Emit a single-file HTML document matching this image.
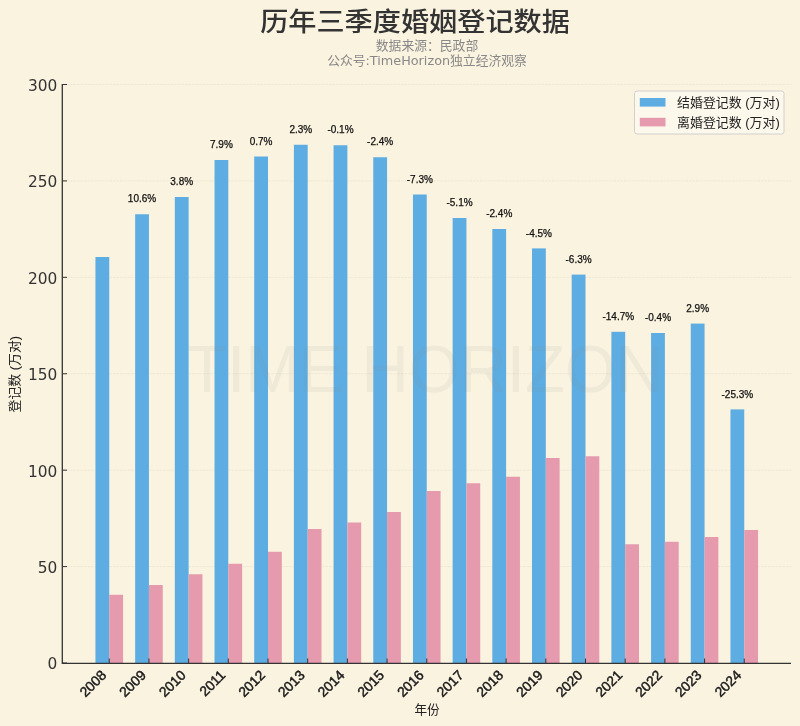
<!DOCTYPE html>
<html lang="zh-CN"><head><meta charset="utf-8"><title>历年三季度婚姻登记数据</title>
<style>
html,body{margin:0;padding:0;background:#FAF3E0;}
body{width:800px;height:726px;overflow:hidden;}
svg{display:block;}
.t{font-family:"Liberation Sans", "Noto Sans CJK SC", sans-serif;}
.d{font-family:"DejaVu Sans", "Liberation Sans", "Noto Sans CJK SC", sans-serif;}
</style></head><body>
<svg width="800" height="726" viewBox="0 0 800 726">
<rect x="0" y="0" width="800" height="726" fill="#FAF3E0"/>
<g stroke="#8a836f" stroke-opacity="0.11" stroke-width="0.9" stroke-dasharray="2.6 1">
<line x1="62.50" y1="566.58" x2="791.50" y2="566.58"/>
<line x1="62.50" y1="470.17" x2="791.50" y2="470.17"/>
<line x1="62.50" y1="373.75" x2="791.50" y2="373.75"/>
<line x1="62.50" y1="277.33" x2="791.50" y2="277.33"/>
<line x1="62.50" y1="180.92" x2="791.50" y2="180.92"/>
<line x1="62.50" y1="84.50" x2="791.50" y2="84.50"/>
</g>
<g fill="#5DADE2">
<rect x="95.45" y="257.00" width="13.80" height="406.00"/>
<rect x="135.14" y="214.25" width="13.80" height="448.75"/>
<rect x="174.82" y="197.00" width="13.80" height="466.00"/>
<rect x="214.51" y="160.00" width="13.80" height="503.00"/>
<rect x="254.20" y="156.50" width="13.80" height="506.50"/>
<rect x="293.89" y="144.75" width="13.80" height="518.25"/>
<rect x="333.57" y="145.25" width="13.80" height="517.75"/>
<rect x="373.26" y="157.25" width="13.80" height="505.75"/>
<rect x="412.95" y="194.50" width="13.80" height="468.50"/>
<rect x="452.64" y="218.00" width="13.80" height="445.00"/>
<rect x="492.32" y="229.00" width="13.80" height="434.00"/>
<rect x="532.01" y="248.40" width="13.80" height="414.60"/>
<rect x="571.70" y="274.60" width="13.80" height="388.40"/>
<rect x="611.39" y="331.80" width="13.80" height="331.20"/>
<rect x="651.08" y="333.00" width="13.80" height="330.00"/>
<rect x="690.76" y="323.60" width="13.80" height="339.40"/>
<rect x="730.45" y="409.40" width="13.80" height="253.60"/>
</g>
<g fill="#E59AAE">
<rect x="109.25" y="594.75" width="13.80" height="68.25"/>
<rect x="148.94" y="585.00" width="13.80" height="78.00"/>
<rect x="188.62" y="574.25" width="13.80" height="88.75"/>
<rect x="228.31" y="563.75" width="13.80" height="99.25"/>
<rect x="268.00" y="551.75" width="13.80" height="111.25"/>
<rect x="307.69" y="529.00" width="13.80" height="134.00"/>
<rect x="347.38" y="522.50" width="13.80" height="140.50"/>
<rect x="387.06" y="512.00" width="13.80" height="151.00"/>
<rect x="426.75" y="491.00" width="13.80" height="172.00"/>
<rect x="466.44" y="483.25" width="13.80" height="179.75"/>
<rect x="506.12" y="476.75" width="13.80" height="186.25"/>
<rect x="545.81" y="458.00" width="13.80" height="205.00"/>
<rect x="585.50" y="456.25" width="13.80" height="206.75"/>
<rect x="625.19" y="544.25" width="13.80" height="118.75"/>
<rect x="664.88" y="541.75" width="13.80" height="121.25"/>
<rect x="704.56" y="537.00" width="13.80" height="126.00"/>
<rect x="744.25" y="530.00" width="13.80" height="133.00"/>
</g>
<text class="t" x="425" y="392" text-anchor="middle" font-size="66" font-weight="400" fill="#808080" fill-opacity="0.085" textLength="476" lengthAdjust="spacingAndGlyphs">TIME HORIZON</text>
<g stroke="#333333" stroke-width="1.3" fill="none">
<path d="M62.30 84.00 V663.40 H791.00"/>
</g>
<g stroke="#333333" stroke-width="1">
<line x1="62.50" y1="663.00" x2="67.00" y2="663.00"/>
<line x1="62.50" y1="566.58" x2="67.00" y2="566.58"/>
<line x1="62.50" y1="470.17" x2="67.00" y2="470.17"/>
<line x1="62.50" y1="373.75" x2="67.00" y2="373.75"/>
<line x1="62.50" y1="277.33" x2="67.00" y2="277.33"/>
<line x1="62.50" y1="180.92" x2="67.00" y2="180.92"/>
<line x1="62.50" y1="84.50" x2="67.00" y2="84.50"/>
<line x1="109.25" y1="663.00" x2="109.25" y2="658.50"/>
<line x1="148.94" y1="663.00" x2="148.94" y2="658.50"/>
<line x1="188.62" y1="663.00" x2="188.62" y2="658.50"/>
<line x1="228.31" y1="663.00" x2="228.31" y2="658.50"/>
<line x1="268.00" y1="663.00" x2="268.00" y2="658.50"/>
<line x1="307.69" y1="663.00" x2="307.69" y2="658.50"/>
<line x1="347.38" y1="663.00" x2="347.38" y2="658.50"/>
<line x1="387.06" y1="663.00" x2="387.06" y2="658.50"/>
<line x1="426.75" y1="663.00" x2="426.75" y2="658.50"/>
<line x1="466.44" y1="663.00" x2="466.44" y2="658.50"/>
<line x1="506.12" y1="663.00" x2="506.12" y2="658.50"/>
<line x1="545.81" y1="663.00" x2="545.81" y2="658.50"/>
<line x1="585.50" y1="663.00" x2="585.50" y2="658.50"/>
<line x1="625.19" y1="663.00" x2="625.19" y2="658.50"/>
<line x1="664.88" y1="663.00" x2="664.88" y2="658.50"/>
<line x1="704.56" y1="663.00" x2="704.56" y2="658.50"/>
<line x1="744.25" y1="663.00" x2="744.25" y2="658.50"/>
</g>
<g class="d" font-size="15.4" fill="#333333" text-anchor="end">
<text x="57.40" y="669.40">0</text>
<text x="57.40" y="572.98">50</text>
<text x="57.40" y="476.57">100</text>
<text x="57.40" y="380.15">150</text>
<text x="57.40" y="283.73">200</text>
<text x="57.40" y="187.32">250</text>
<text x="57.40" y="90.90">300</text>
</g>
<g class="t" font-size="13.9" font-weight="400" fill="#1a1a1a" stroke="#1a1a1a" stroke-width="0.45" text-anchor="end">
<text transform="translate(107.25 676.00) rotate(-45)" x="0" y="0">2008</text>
<text transform="translate(146.94 676.00) rotate(-45)" x="0" y="0">2009</text>
<text transform="translate(186.62 676.00) rotate(-45)" x="0" y="0">2010</text>
<text transform="translate(226.31 676.00) rotate(-45)" x="0" y="0">2011</text>
<text transform="translate(266.00 676.00) rotate(-45)" x="0" y="0">2012</text>
<text transform="translate(305.69 676.00) rotate(-45)" x="0" y="0">2013</text>
<text transform="translate(345.38 676.00) rotate(-45)" x="0" y="0">2014</text>
<text transform="translate(385.06 676.00) rotate(-45)" x="0" y="0">2015</text>
<text transform="translate(424.75 676.00) rotate(-45)" x="0" y="0">2016</text>
<text transform="translate(464.44 676.00) rotate(-45)" x="0" y="0">2017</text>
<text transform="translate(504.12 676.00) rotate(-45)" x="0" y="0">2018</text>
<text transform="translate(543.81 676.00) rotate(-45)" x="0" y="0">2019</text>
<text transform="translate(583.50 676.00) rotate(-45)" x="0" y="0">2020</text>
<text transform="translate(623.19 676.00) rotate(-45)" x="0" y="0">2021</text>
<text transform="translate(662.88 676.00) rotate(-45)" x="0" y="0">2022</text>
<text transform="translate(702.56 676.00) rotate(-45)" x="0" y="0">2023</text>
<text transform="translate(742.25 676.00) rotate(-45)" x="0" y="0">2024</text>
</g>
<g class="t" font-size="10" font-weight="500" fill="#111111" stroke="#111111" stroke-width="0.25" text-anchor="middle">
<text x="142.04" y="202.45">10.6%</text>
<text x="181.72" y="185.20">3.8%</text>
<text x="221.41" y="148.20">7.9%</text>
<text x="261.10" y="144.70">0.7%</text>
<text x="300.79" y="132.95">2.3%</text>
<text x="340.48" y="133.45">-0.1%</text>
<text x="380.16" y="145.45">-2.4%</text>
<text x="419.85" y="182.70">-7.3%</text>
<text x="459.54" y="206.20">-5.1%</text>
<text x="499.23" y="217.20">-2.4%</text>
<text x="538.91" y="236.60">-4.5%</text>
<text x="578.60" y="262.80">-6.3%</text>
<text x="618.29" y="320.00">-14.7%</text>
<text x="657.98" y="321.20">-0.4%</text>
<text x="697.66" y="311.80">2.9%</text>
<text x="737.35" y="397.60">-25.3%</text>
</g>
<text class="t" x="427" y="714" font-size="12.6" fill="#222222" text-anchor="middle">年份</text>
<text class="t" transform="translate(19.2 374.2) rotate(-90)" font-size="12.9" fill="#222222" text-anchor="middle">登记数 (万对)</text>
<text class="t" transform="translate(415 31.1) scale(1.006 0.925)" x="0" y="0" font-size="28" font-weight="500" fill="#333333" text-anchor="middle">历年三季度婚姻登记数据</text>
<text class="d" x="427" y="49.5" font-size="12.8" fill="#888888" text-anchor="middle">数据来源：民政部</text>
<text class="d" x="427" y="64.5" font-size="12.8" fill="#888888" text-anchor="middle">公众号:TimeHorizon独立经济观察</text>
<rect x="634.5" y="91" width="149.5" height="43" rx="2.5" ry="2.5" fill="#FFFFFF" fill-opacity="0.4" stroke="#cccccc" stroke-opacity="0.9" stroke-width="1"/>
<rect x="639.8" y="98" width="25.7" height="8.6" fill="#5DADE2"/>
<rect x="639.8" y="117.8" width="25.7" height="8.6" fill="#E59AAE"/>
<g class="t" font-size="12.95" fill="#222222">
<text x="677" y="107">结婚登记数 (万对)</text>
<text x="677" y="126.7">离婚登记数 (万对)</text>
</g>
</svg>
</body></html>
